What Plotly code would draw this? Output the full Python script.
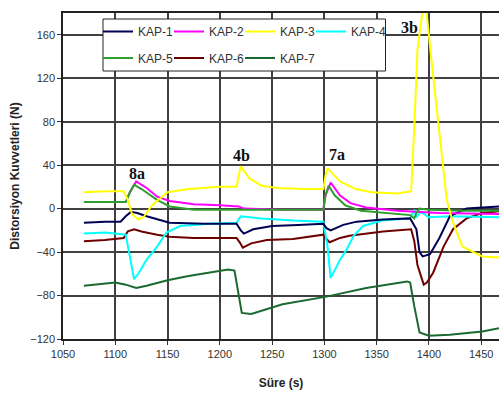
import plotly.graph_objects as go

names = ["KAP-1", "KAP-2", "KAP-3", "KAP-4", "KAP-5", "KAP-6", "KAP-7"]
colors = ["#000055", "#FF00FF", "#FFFF00", "#00FFFF", "#2E9E2E", "#6E0000", "#1A6A30"]

t1 = [1070, 1090, 1105, 1110, 1115, 1121, 1130, 1140, 1152, 1185, 1216, 1220, 1223, 1232, 1250, 1275, 1299, 1302, 1306, 1318, 1331, 1356, 1382, 1388, 1391, 1394, 1401, 1410, 1420, 1436, 1467]
v1 = [-13, -12, -12, -7, -3, -4, -7, -10, -13, -14, -14, -20, -23, -19, -16, -15, -14, -18, -20, -15, -12, -10, -9, -19, -40, -44, -42, -27, -7, 0, 2]

t2 = [1070, 1100, 1110, 1114, 1120, 1130, 1140, 1152, 1175, 1200, 1218, 1223, 1260, 1299, 1301, 1306, 1315, 1325, 1340, 1370, 1390, 1410, 1467]
v2 = [6, 6, 6, 15, 25, 19, 11, 7, 4, 3, 2, 0, -1, -1, 12, 24, 12, 5, 1, -2, -3, -4, -5]

t3 = [1070, 1090, 1108, 1112, 1116, 1122, 1127, 1135, 1150, 1170, 1200, 1216, 1218, 1220, 1228, 1240, 1255, 1280, 1299, 1301, 1303, 1315, 1330, 1345, 1370, 1383, 1386, 1389, 1395, 1398, 1402, 1410, 1417, 1423, 1432, 1451, 1467]
v3 = [15, 16, 16, 8, -5, -10, -8, 3, 15, 18, 20, 20, 30, 39, 28, 21, 19, 18, 18, 30, 37, 25, 18, 15, 14, 16, 75, 146, 190, 178, 140, 70, 8, -13, -35, -44, -45]

t4 = [1070, 1090, 1110, 1114, 1118, 1122, 1130, 1140, 1149, 1162, 1190, 1216, 1220, 1240, 1270, 1299, 1303, 1306, 1310, 1315, 1321, 1328, 1337, 1355, 1382, 1386, 1388, 1392, 1400, 1420, 1467]
v4 = [-23, -22, -24, -45, -65, -60, -47, -35, -22, -16, -14, -13, -7, -9, -11, -12, -35, -64, -57, -47, -38, -25, -16, -11, -9, -1, -8, -3, -8, -7, -8]

t5 = [1070, 1100, 1110, 1114, 1118, 1125, 1140, 1152, 1175, 1220, 1299, 1301, 1304, 1310, 1320, 1335, 1360, 1382, 1386, 1388, 1391, 1400, 1430, 1467]
v5 = [6, 6, 6, 15, 22, 18, 8, 2, -1, -1, -1, 12, 21, 12, 3, -2, -4, -6, -9, -4, 0, -1, -2, -2]

t6 = [1070, 1090, 1108, 1112, 1118, 1125, 1140, 1152, 1175, 1216, 1219, 1222, 1230, 1245, 1270, 1299, 1302, 1305, 1315, 1324, 1356, 1383, 1386, 1389, 1395, 1398, 1404, 1414, 1423, 1436, 1451, 1467]
v6 = [-30, -29, -27, -21, -19, -21, -24, -26, -27, -27, -31, -36, -32, -29, -28, -24, -28, -31, -27, -25, -21, -19, -30, -52, -70, -68, -59, -35, -19, -9, -4, -2.5]

t7 = [1070, 1090, 1100, 1110, 1120, 1130, 1150, 1170, 1190, 1208, 1214, 1218, 1221, 1230, 1260, 1302, 1340, 1379, 1382, 1386, 1391, 1400, 1420, 1451, 1467]
v7 = [-71, -69, -68, -70, -73, -71, -66, -62, -59, -56, -57, -80, -96, -97, -88, -81, -73, -67, -68, -90, -114, -117, -116, -113, -110]

times = [t1, t2, t3, t4, t5, t6, t7]
values = [v1, v2, v3, v4, v5, v6, v7]

x_ticks = [1050, 1100, 1150, 1200, 1250, 1300, 1350, 1400, 1450]
y_ticks = [-120, -80, -40, 0, 40, 80, 120, 160]

labels = ["8a", "4b", "7a", "3b"]
label_t = [1121, 1221, 1312, 1381]
label_v = [32, 49, 50, 167]

fig = go.Figure()
draw_order = [6, 5, 3, 0, 1, 4, 2]
for i in draw_order:
    fig.add_trace(go.Scatter(
        x=times[i], y=values[i], mode="lines", name=names[i],
        line=dict(color=colors[i], width=2),
        legend="legend" if i < 4 else "legend2",
        legendrank=i,
    ))

# empty spacer entries so the last item of each legend row is not clipped
for lg in ["legend", "legend2"]:
    fig.add_trace(go.Scatter(x=[None], y=[None], mode="lines", name=" ",
                             line=dict(color="rgba(0,0,0,0)", width=0),
                             legend=lg, legendrank=100, hoverinfo="skip"))

for lab, lt, lv in zip(labels, label_t, label_v):
    fig.add_annotation(x=lt, y=lv, text="<b>" + lab + "</b>", showarrow=False,
                       font=dict(family="Liberation Serif", size=16, color="#111111"),
                       xanchor="center", yanchor="middle")

W, H = 499, 394
ml, mt, mb = 63, 13, 55
pw, ph = W - ml, H - mt - mb

def px_x(p):
    return (p - ml) / pw

def px_y(p):
    return (H - mb - p) / ph

fig.add_shape(type="rect", xref="paper", yref="paper",
              x0=px_x(103), x1=px_x(385.5), y0=px_y(71), y1=px_y(19),
              fillcolor="white", line=dict(color="#222222", width=1), layer="above")

legend_common = dict(orientation="h", bgcolor="rgba(0,0,0,0)", borderwidth=0,
                     font=dict(family="Liberation Sans", size=12, color="#333333"),
                     entrywidth=26, xanchor="left", yanchor="top", traceorder="normal",
                     itemclick=False)

axis_common = dict(ticks="outside", ticklen=4, tickcolor="#333333",
                   showgrid=True, gridcolor="#404040", gridwidth=2,
                   showline=True, linecolor="#222222", linewidth=1.5,
                   zeroline=False, automargin=False,
                   tickfont=dict(family="Liberation Sans", size=11, color="#333333"))

fig.update_layout(
    width=W, height=H,
    margin=dict(l=ml, r=0, t=mt, b=mb, autoexpand=False),
    paper_bgcolor="white", plot_bgcolor="white",
    showlegend=True,
    legend=dict(x=px_x(98), y=px_y(17), **legend_common),
    legend2=dict(x=px_x(98), y=px_y(43.5), **legend_common),
    xaxis=dict(range=[1050, 1467], tickvals=x_ticks, mirror=True,
               title=dict(text="<b>Süre (s)</b>", standoff=20,
                          font=dict(family="Liberation Sans", size=12, color="#222222")),
               **axis_common),
    yaxis=dict(range=[-120, 180], tickvals=y_ticks, mirror=False,
               title=dict(text="<b>Distorsiyon Kuvvetleri (N)</b>", standoff=8,
                          font=dict(family="Liberation Sans", size=12, color="#222222")),
               **axis_common),
)

fig.write_html("out.html",
               config={"displayModeBar": False},
               post_script="document.body.style.margin='0';document.body.style.overflow='hidden';")
